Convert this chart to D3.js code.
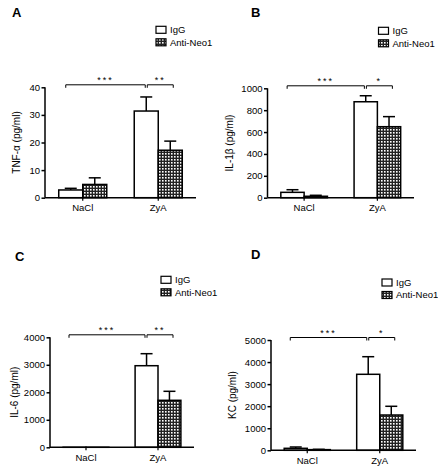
<!DOCTYPE html>
<html><head><meta charset="utf-8">
<script src="https://cdn.jsdelivr.net/npm/d3@7"></script>
<style>body{margin:0;background:#fff}svg{display:block}text{font-family:"Liberation Sans",Arial,sans-serif;fill:#000}</style>
</head><body><svg id="c" width="438" height="472"></svg>
<script>
const categories = ["NaCl", "ZyA"];
const seriesNames = ["IgG", "Anti-Neo1"];
const panelLetters = ["A", "B", "C", "D"];
const yLabels = ["TNF-\u03b1 (pg/ml)", "IL-1\u03b2 (pg/ml)", "IL-6 (pg/ml)", "KC (pg/ml)"];
const yMax = [40, 1000, 4000, 5000];
const yTicks = [[0,10,20,30,40],[0,200,400,600,800,1000],[0,1000,2000,3000,4000],[0,1000,2000,3000,4000,5000]];
// means per panel: [NaCl, ZyA]
const iggMean = [[2.8, 31.4],[49, 877],[1, 2967],[90, 3445]];
const iggErr  = [[0.6, 5.1],[24, 55],[0, 437],[60, 798]];
const antiMean = [[4.8, 17.2],[13, 649],[1, 1709],[30, 1600]];
const antiErr  = [[2.4, 3.3],[9, 92],[0, 327],[15, 395]];
const sigLong = ["***", "***", "***", "***"];
const sigShort = ["**", "*", "**", "*"];

// layout (positions only)
const layout = [
  {l:45, r:196, t:87.3, b:197.7, lx:12, ly:17, labX:16},
  {l:267.5, r:414, t:88.3, b:197.7, lx:251, ly:17, labX:229},
  {l:50, r:194, t:337.3, b:447.3, lx:15, ly:261, labX:14},
  {l:271, r:416, t:340, b:450.3, lx:251, ly:259, labX:232}
];

const svg = d3.select("#c");
const defs = svg.append("defs");
const pat = defs.append("pattern").attr("id","chk").attr("patternUnits","userSpaceOnUse")
  .attr("width",3).attr("height",3);
pat.append("rect").attr("width",3).attr("height",3).attr("fill","#222");
pat.append("rect").attr("x",0).attr("y",0).attr("width",1.6).attr("height",1.6).attr("fill","#fff");

layout.forEach((L, i) => {
  const g = svg.append("g");
  const x = d3.scaleBand().domain(categories).range([L.l, L.r]).padding(0);
  const y = d3.scaleLinear().domain([0, yMax[i]]).range([L.b, L.t]);
  const bw = x.step() * 0.318;
  const rows = [];
  categories.forEach((c, ci) => {
    rows.push({c, s:0, m: iggMean[i][ci], e: iggErr[i][ci]});
    rows.push({c, s:1, m: antiMean[i][ci], e: antiErr[i][ci]});
  });
  const bx = d => x(d.c) + x.bandwidth()/2 + (d.s === 0 ? -bw : 0);
  // error bars
  rows.filter(d => d.e > 0).forEach(d => {
    const cx = bx(d) + bw/2;
    g.append("line").attr("x1",cx).attr("x2",cx).attr("y1",y(d.m)).attr("y2",y(d.m+d.e))
      .attr("stroke","#000").attr("stroke-width",1.5);
    g.append("line").attr("x1",cx-6).attr("x2",cx+6).attr("y1",y(d.m+d.e)).attr("y2",y(d.m+d.e))
      .attr("stroke","#000").attr("stroke-width",1.5);
  });
  g.selectAll("rect.bar").data(rows).join("rect").attr("class","bar")
    .attr("x", bx).attr("width", bw)
    .attr("y", d => y(d.m)).attr("height", d => Math.max(0, y(0) - y(d.m)))
    .attr("fill", d => d.s === 0 ? "#fff" : "url(#chk)")
    .attr("stroke","#000").attr("stroke-width",1.5);

  // axes
  const ya = g.append("g").attr("transform",`translate(${L.l},0)`)
    .call(d3.axisLeft(y).tickValues(yTicks[i]).tickSize(3.5).tickPadding(1.5).tickFormat(d3.format("d")));
  ya.select(".domain").attr("stroke-width",1.5).attr("d",`M0,${L.b}V${L.t}`);
  ya.selectAll(".tick line").attr("stroke-width",1.5);
  ya.selectAll("text").style("font-size","9.5px").style("font-family","Liberation Sans, Arial, sans-serif");
  const xa = g.append("g").attr("transform",`translate(0,${L.b})`)
    .call(d3.axisBottom(x).tickSize(3).tickPadding(4));
  xa.select(".domain").attr("stroke-width",1.5).attr("d",`M${L.l},0H${L.r}`);
  xa.selectAll(".tick line").attr("stroke-width",1.2);
  xa.selectAll("text").style("font-size","9.5px").style("font-family","Liberation Sans, Arial, sans-serif");

  // y label
  g.append("text").attr("transform",`translate(${L.labX},${(L.t+L.b)/2}) rotate(-90)`)
    .attr("text-anchor","middle").attr("dy","0.35em").style("font-size","10px").text(yLabels[i]);

  // panel letter
  g.append("text").attr("x",L.lx).attr("y",L.ly).style("font-size","13px").style("font-weight","bold")
    .style("font-family","Arial Black, Liberation Sans, Arial, sans-serif").text(panelLetters[i]);

  // significance brackets
  const nc = x("NaCl") + x.bandwidth()/2, zc = x("ZyA") + x.bandwidth()/2;
  const by = L.t - 2.5;
  const br = (x1, x2, label) => {
    g.append("path").attr("d",`M${x1},${by+3}V${by}H${x2}V${by+3}`).attr("fill","none")
      .attr("stroke","#000").attr("stroke-width",1);
    g.append("text").attr("x",(x1+x2)/2).attr("y",by-1.5).attr("text-anchor","middle")
      .style("font-size","9px").style("letter-spacing","2px").text(label);
  };
  br(nc - 17, zc - 13, sigLong[i]);
  br(zc - 11, zc + 15, sigShort[i]);

  // legend
  const lgx = L.l + 111, lgy = L.t - 61;
  seriesNames.forEach((s, si) => {
    g.append("rect").attr("x",lgx).attr("y",lgy + si*12.5).attr("width",10).attr("height",7)
      .attr("fill", si === 0 ? "#fff" : "url(#chk)").attr("stroke","#000").attr("stroke-width",1.2);
    g.append("text").attr("x",lgx+14).attr("y",lgy + si*12.5 + 3.5).attr("dy","0.35em")
      .style("font-size","9.5px").text(s);
  });
});
</script></body></html>
